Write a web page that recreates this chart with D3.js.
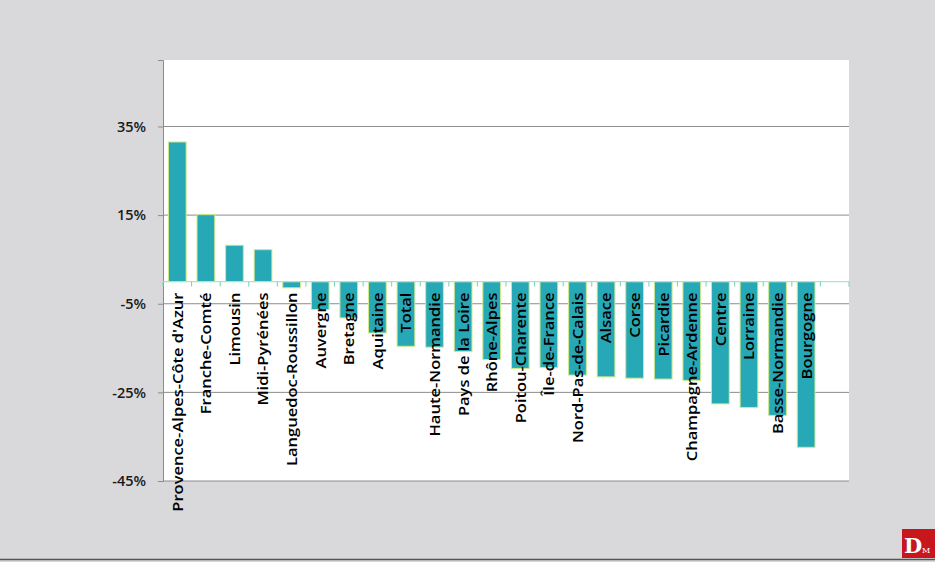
<!DOCTYPE html>
<html>
<head>
<meta charset="utf-8">
<script src="https://cdn.jsdelivr.net/npm/d3@7"></script>
<style>
  body { margin: 0; background: #d9d9dc; }
  svg { display: block; }
</style>
</head>
<body>
<svg id="chart"></svg>
<script>
const regions = [
  "Provence-Alpes-Côte d'Azur", "Franche-Comté", "Limousin", "Midi-Pyrénées",
  "Languedoc-Roussillon", "Auvergne", "Bretagne", "Aquitaine", "Total",
  "Haute-Normandie", "Pays de la Loire", "Rhône-Alpes", "Poitou-Charente",
  "Île-de-France", "Nord-Pas-de-Calais", "Alsace", "Corse", "Picardie",
  "Champagne-Ardenne", "Centre", "Lorraine", "Basse-Normandie", "Bourgogne"
];
const change = [
  31.5, 15.1, 8.2, 7.2,
  -1.4, -6.3, -8.2, -11.6, -14.6,
  -14.8, -15.8, -17.6, -19.6,
  -19.4, -21.1, -21.5, -21.8, -22.0,
  -22.3, -27.6, -28.4, -30.2, -37.4
];
const yTicks = [35, 15, -5, -25, -45];

const W = 935, H = 562;
const plot = { left: 163, top: 60, right: 849, bottom: 481 };

const svg = d3.select("#chart").attr("width", W).attr("height", H);

svg.append("rect")
  .attr("x", plot.left).attr("y", plot.top)
  .attr("width", plot.right - plot.left).attr("height", plot.bottom - plot.top)
  .attr("fill", "#ffffff");

// one empty slot after the last region, like the original
const slots = regions.concat([""]);
const x = d3.scaleBand()
  .domain(d3.range(slots.length))
  .range([plot.left, plot.right])
  .paddingInner(0.38).paddingOuter(0.19);

const y = d3.scaleLinear().domain([-45, 50]).range([plot.bottom, plot.top]);

// gridlines + y labels
const yAxis = svg.append("g")
  .attr("transform", `translate(${plot.left},0)`)
  .call(d3.axisLeft(y).tickValues(yTicks).tickSize(5).tickPadding(12)
    .tickFormat(d => d + "%"));
yAxis.select(".domain").attr("stroke", "#8c8c8c");
yAxis.selectAll(".tick line").attr("stroke", "#8c8c8c");
yAxis.selectAll(".tick text")
  .attr("font-family", "Open Sans").attr("font-weight", 600)
  .attr("font-size", 14.5).attr("fill", "#1a1a1a");

svg.append("g").selectAll("line").data(yTicks).join("line")
  .attr("x1", plot.left).attr("x2", plot.right)
  .attr("y1", d => y(d)).attr("y2", d => y(d))
  .attr("stroke", "#8c8c8c").attr("stroke-width", 1);

// bars
svg.append("g").selectAll("rect").data(change).join("rect")
  .attr("x", (d, i) => x(i))
  .attr("width", x.bandwidth())
  .attr("y", d => y(Math.max(0, d)))
  .attr("height", d => Math.abs(y(d) - y(0)))
  .attr("fill", "#27a8b6")
  .attr("stroke", "#cfe98a").attr("stroke-width", 1);

// zero axis with category ticks
const step = x.step();
const bounds = d3.range(slots.length + 1).map(i => plot.left + i * step);
svg.append("line")
  .attr("x1", plot.left).attr("x2", plot.right)
  .attr("y1", y(0)).attr("y2", y(0))
  .attr("stroke", "#a8e6cf").attr("stroke-width", 1.2);
svg.append("g").selectAll("line").data(bounds).join("line")
  .attr("x1", d => d).attr("x2", d => d)
  .attr("y1", y(0)).attr("y2", y(0) + 5)
  .attr("stroke", "#7fcfb0").attr("stroke-width", 1);

// rotated category labels
svg.append("g").selectAll("text").data(regions).join("text")
  .attr("transform", (d, i) => `translate(${x(i) + x.bandwidth() / 2},${y(0) + 11}) rotate(-90) scale(1.1,1)`)
  .attr("text-anchor", "end")
  .attr("dy", "0.36em")
  .attr("font-family", "Open Sans").attr("font-weight", 600)
  .attr("font-size", 15).attr("fill", "#000")
  .text(d => d);

// bottom rule and logo
svg.append("line")
  .attr("x1", 0).attr("x2", W).attr("y1", H - 2.5).attr("y2", H - 2.5)
  .attr("stroke", "#555").attr("stroke-width", 1.5);
const logo = svg.append("g").attr("transform", `translate(${W - 33},${H - 33})`);
logo.append("rect").attr("width", 33).attr("height", 29).attr("fill", "#c8161d");
logo.append("text").attr("x", 2).attr("y", 24)
  .attr("font-family", "DejaVu Serif").attr("font-weight", "bold")
  .attr("font-size", 21).attr("fill", "#fff").text("D");
logo.append("text").attr("x", 20).attr("y", 24)
  .attr("font-family", "DejaVu Serif").attr("font-size", 8)
  .attr("fill", "#fff").text("M");
</script>
</body>
</html>
